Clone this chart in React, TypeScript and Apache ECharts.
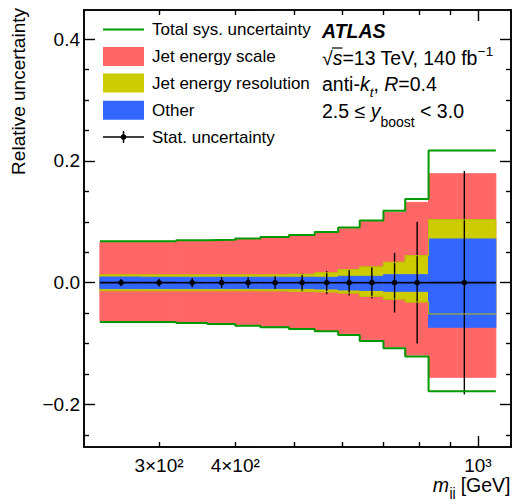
import React, { useEffect, useRef } from "react";
import * as echarts from "echarts";

// Bin edges in m_jj [GeV]
const binEdges = [240, 280, 320, 360, 400, 440, 490, 540, 590, 640, 700, 760, 830, 1070];
// Relative uncertainties per bin
const totalUp = [0.068, 0.068, 0.0695, 0.0705, 0.0727, 0.075, 0.0783, 0.0833, 0.0908, 0.1023, 0.1182, 0.1374, 0.2172];
const totalDown = [-0.0646, -0.0646, -0.0662, -0.0679, -0.0706, -0.0733, -0.076, -0.08, -0.0859, -0.0958, -0.1078, -0.1215, -0.1785];
const jesUp = [0.0665, 0.0665, 0.068, 0.069, 0.0712, 0.0735, 0.0768, 0.0815, 0.0885, 0.1007, 0.1154, 0.1319, 0.179];
const jesDown = [-0.0632, -0.0632, -0.0648, -0.0665, -0.0692, -0.0718, -0.0745, -0.0785, -0.084, -0.0938, -0.1055, -0.119, -0.1555];
const jerUp = [0.0128, 0.0126, 0.0126, 0.0126, 0.0126, 0.0128, 0.0137, 0.0162, 0.0213, 0.0258, 0.0334, 0.0443, 0.1034];
const jerDown = [-0.0131, -0.0131, -0.0131, -0.0131, -0.0131, -0.0133, -0.0142, -0.0152, -0.017, -0.0225, -0.027, -0.0317, -0.0514];
const otherUp = [0.0093, 0.009, 0.009, 0.009, 0.009, 0.009, 0.009, 0.0088, 0.0104, 0.0104, 0.0131, 0.0131, 0.0718];
const otherDown = [-0.0098, -0.0098, -0.0098, -0.0098, -0.0098, -0.0098, -0.0098, -0.0104, -0.012, -0.0126, -0.0142, -0.0142, -0.0733];
const statErr = [0.006, 0.0065, 0.0077, 0.009, 0.009, 0.0104, 0.0145, 0.019, 0.021, 0.026, 0.049, 0.1, 0.1835];

// Axis
const xMin = 226;
const xMax = 1133;
const yMin = -0.27;
const yMax = 0.448;
const xMajorTicks = [1000];
const xMinorTicks = [300, 400, 500, 600, 700, 800, 900];
const xLabelValues = [300, 400, 1000];
const xLabelTexts = ["3×10²", "4×10²", "10³"];
const yMajorTicks = [-0.2, 0, 0.2, 0.4];
const yMinorTicks = [-0.25, -0.15, -0.1, -0.05, 0.05, 0.1, 0.15, 0.25, 0.3, 0.35];

const FONT = "'Liberation Sans', Arial, Helvetica, sans-serif";
const RED = "#ff6666";
const YELLOW = "#cccc00";
const BLUE = "#3366ff";
const GREEN = "#009900";

const lg = (v: number) => Math.log10(v);

function stepData(vals: number[]) {
  return binEdges.map((e, i) => [lg(e), vals[Math.min(i, vals.length - 1)]]);
}

function band(lo: number[], hi: number[], color: string) {
  return {
    type: "custom",
    xAxisIndex: 0,
    yAxisIndex: 0,
    silent: true,
    data: lo.map((l, i) => [lg(binEdges[i]), lg(binEdges[i + 1]), l, hi[i]]),
    encode: { x: [0, 1], y: [2, 3] },
    renderItem: (_p: any, api: any) => {
      const a = api.coord([api.value(0), api.value(3)]);
      const b = api.coord([api.value(1), api.value(2)]);
      return {
        type: "rect",
        shape: { x: a[0], y: a[1], width: b[0] - a[0], height: b[1] - a[1] },
        style: { fill: color, stroke: color, lineWidth: 1 },
      };
    },
  };
}

function edgeLine(vals: number[], color: string, width: number) {
  return {
    type: "line",
    step: "end",
    data: stepData(vals),
    symbol: "none",
    lineStyle: { color, width },
    silent: true,
    xAxisIndex: 0,
    yAxisIndex: 0,
  };
}

const axisText = { fontFamily: FONT, fontSize: 19, color: "#000" };

function xAxisDef(position: string, ticks: number[], len: number, labels: boolean) {
  return {
    type: "value",
    position,
    min: lg(xMin),
    max: lg(xMax),
    axisLine: { show: true, onZero: false, lineStyle: { color: "#000", width: 1.6 } },
    axisTick: { show: true, inside: true, length: len, customValues: ticks.map(lg), lineStyle: { color: "#000", width: 1.4 } },
    axisLabel: labels
      ? {
          show: true,
          customValues: xLabelValues.map(lg),
          margin: 9,
          lineHeight: 18,
          ...axisText,
          formatter: (v: number) => {
            const idx = xLabelValues.findIndex((x) => Math.abs(lg(x) - v) < 1e-6);
            return idx >= 0 ? xLabelTexts[idx] : "";
          },
        }
      : { show: false },
    splitLine: { show: false },
  };
}

function yAxisDef(position: string, ticks: number[], len: number, labels: boolean) {
  return {
    type: "value",
    position,
    min: yMin,
    max: yMax,
    axisLine: { show: true, onZero: false, lineStyle: { color: "#000", width: 1.6 } },
    axisTick: { show: true, inside: true, length: len, customValues: ticks, lineStyle: { color: "#000", width: 1.4 } },
    axisLabel: labels
      ? {
          show: true,
          customValues: yMajorTicks,
          margin: 4,
          ...axisText,
          formatter: (v: number) => (Math.abs(v) < 1e-9 ? "0.0" : v < 0 ? "\u2212" + Math.abs(v).toFixed(1) : v.toFixed(1)),
        }
      : { show: false },
    splitLine: { show: false },
  };
}

export default function App() {
  const ref = useRef<HTMLDivElement>(null);
  useEffect(() => {
    document.body.style.margin = "0";
    if (!ref.current) return;
    const chart = echarts.init(ref.current, undefined, { renderer: "svg" });

    const statData = statErr.map((s, i) => [
      lg((binEdges[i] + binEdges[i + 1]) / 2),
      0,
      s,
      lg(binEdges[i]),
      lg(binEdges[i + 1]),
    ]);

    const legendX = 103;
    const swW = 41;
    const textX = 152;
    const rows = [29.5, 56.5, 83, 110.3, 137];
    const legendFont = { fontFamily: FONT, fontSize: 17, fill: "#000" };
    const rFont = 19.5;
    const rx = 322;
    const base = { fontFamily: FONT, fill: "#000", color: "#000" };
    const rich = {
      i: { ...base, fontSize: rFont, fontStyle: "italic" },
      n: { ...base, fontSize: rFont },
      sup: { ...base, fontSize: 13.5, padding: [0, 0, 12, 0] },
      subt: { ...base, fontSize: 13.5, fontStyle: "italic", padding: [16, 0, 0, 0] },
      subb: { ...base, fontSize: 14, padding: [22, 0, 0, 0] },
    };

    const graphic: any[] = [
      // legend
      { type: "line", shape: { x1: legendX, y1: rows[0], x2: legendX + swW, y2: rows[0] }, style: { stroke: GREEN, lineWidth: 2 } },
      { type: "rect", shape: { x: legendX, y: rows[1] - 9.5, width: swW, height: 19 }, style: { fill: RED } },
      { type: "rect", shape: { x: legendX, y: rows[2] - 9.5, width: swW, height: 19 }, style: { fill: YELLOW } },
      { type: "rect", shape: { x: legendX, y: rows[3] - 9.5, width: swW, height: 19 }, style: { fill: BLUE } },
      { type: "line", shape: { x1: legendX, y1: rows[4], x2: legendX + swW, y2: rows[4] }, style: { stroke: "#000", lineWidth: 1.5 } },
      { type: "line", shape: { x1: legendX + swW / 2, y1: rows[4] - 6, x2: legendX + swW / 2, y2: rows[4] + 6 }, style: { stroke: "#000", lineWidth: 1.5 } },
      { type: "circle", shape: { cx: legendX + swW / 2, cy: rows[4], r: 2.8 }, style: { fill: "#000" } },
      ...["Total sys. uncertainty", "Jet energy scale", "Jet energy resolution", "Other", "Stat. uncertainty"].map((t, i) => ({
        type: "text",
        x: textX,
        y: rows[i],
        style: { text: t, ...legendFont, textAlign: "left", textVerticalAlign: "middle" },
      })),
      // ATLAS labels
      {
        type: "text",
        x: rx,
        y: rows[0] + 1,
        style: { text: "ATLAS", fontFamily: FONT, fontSize: rFont, fontWeight: "bold", fontStyle: "italic", fill: "#000", textAlign: "left", textVerticalAlign: "middle" },
      },
      {
        type: "text",
        x: rx,
        y: rows[1] + 1,
        style: { text: "{n|√}{i|s}{n|=13 TeV, 140 fb}{sup|\u22121}", rich, textAlign: "left", textVerticalAlign: "middle", fontFamily: FONT, fontSize: rFont },
      },
      { type: "line", shape: { x1: 332, y1: 48, x2: 342.5, y2: 48 }, style: { stroke: "#000", lineWidth: 1.2 } },
      {
        type: "text",
        x: rx,
        y: rows[2] + 1,
        style: { text: "{n|anti-}{i|k}{subt|t}{n|, }{i|R}{n|=0.4}", rich, textAlign: "left", textVerticalAlign: "middle", fontFamily: FONT, fontSize: rFont },
      },
      {
        type: "text",
        x: rx,
        y: rows[3] + 1,
        style: { text: "{n|2.5 ≤ }{i|y}{subb|boost}{n| < 3.0}", rich, textAlign: "left", textVerticalAlign: "middle", fontFamily: FONT, fontSize: rFont },
      },
      // x axis title: m_jj [GeV]
      {
        type: "text",
        x: 449,
        y: 485,
        style: { text: "m", fontFamily: FONT, fontSize: rFont, fontStyle: "italic", fill: "#000", textAlign: "right", textVerticalAlign: "middle", lineHeight: 18 },
      },
      {
        type: "text",
        x: 449.5,
        y: 492.5,
        style: { text: "jj", fontFamily: FONT, fontSize: 14, fill: "#000", textAlign: "left", textVerticalAlign: "middle", lineHeight: 13 },
      },
      {
        type: "text",
        x: 510.5,
        y: 485,
        style: { text: "[GeV]", fontFamily: FONT, fontSize: rFont, fill: "#000", textAlign: "right", textVerticalAlign: "middle", lineHeight: 18 },
      },
      {
        type: "text",
        x: 18,
        y: 8,
        rotation: Math.PI / 2,
        style: { text: "Relative uncertainty", fontFamily: FONT, fontSize: 19, fill: "#000", textAlign: "right", textVerticalAlign: "middle" },
      },
    ];

    chart.setOption({
      animation: false,
      backgroundColor: "#fff",
      grid: { left: 84, right: 2, top: 10, bottom: 52 },
      xAxis: [
        xAxisDef("bottom", xMajorTicks, 11, true),
        xAxisDef("bottom", xMinorTicks, 5, false),
        xAxisDef("top", xMajorTicks, 11, false),
        xAxisDef("top", xMinorTicks, 5, false),
      ],
      yAxis: [
        yAxisDef("left", yMajorTicks, 11, true),
        yAxisDef("left", yMinorTicks, 5, false),
        yAxisDef("right", yMajorTicks, 11, false),
        yAxisDef("right", yMinorTicks, 5, false),
      ],
      series: [
        band(jesDown, jesUp, RED),
        band(jerDown, jerUp, YELLOW),
        band(otherDown, otherUp, BLUE),
        edgeLine(jerUp, "#bcbc00", 1),
        edgeLine(jerDown, "#bcbc00", 1),
        edgeLine(totalUp, GREEN, 2),
        edgeLine(totalDown, GREEN, 2),
        {
          type: "custom",
          xAxisIndex: 0,
          yAxisIndex: 0,
          silent: true,
          data: statData,
          encode: { x: 0, y: 1 },
          renderItem: (_p: any, api: any) => {
            const c = api.coord([api.value(0), api.value(1)]);
            const top = api.coord([api.value(0), api.value(2)]);
            const bot = api.coord([api.value(0), -api.value(2)]);
            const l = api.coord([api.value(3), 0]);
            const r = api.coord([api.value(4), 0]);
            return {
              type: "group",
              children: [
                { type: "line", shape: { x1: l[0], y1: l[1], x2: r[0], y2: r[1] }, style: { stroke: "#000", lineWidth: 1.6 } },
                { type: "line", shape: { x1: c[0], y1: top[1], x2: c[0], y2: bot[1] }, style: { stroke: "#000", lineWidth: 1.4 } },
                { type: "circle", shape: { cx: c[0], cy: c[1], r: 2.8 }, style: { fill: "#000" } },
              ],
            };
          },
        },
      ],
      graphic,
    });
    return () => chart.dispose();
  }, []);
  return <div ref={ref} style={{ position: "fixed", left: 0, top: 0, width: 513, height: 499 }} />;
}
